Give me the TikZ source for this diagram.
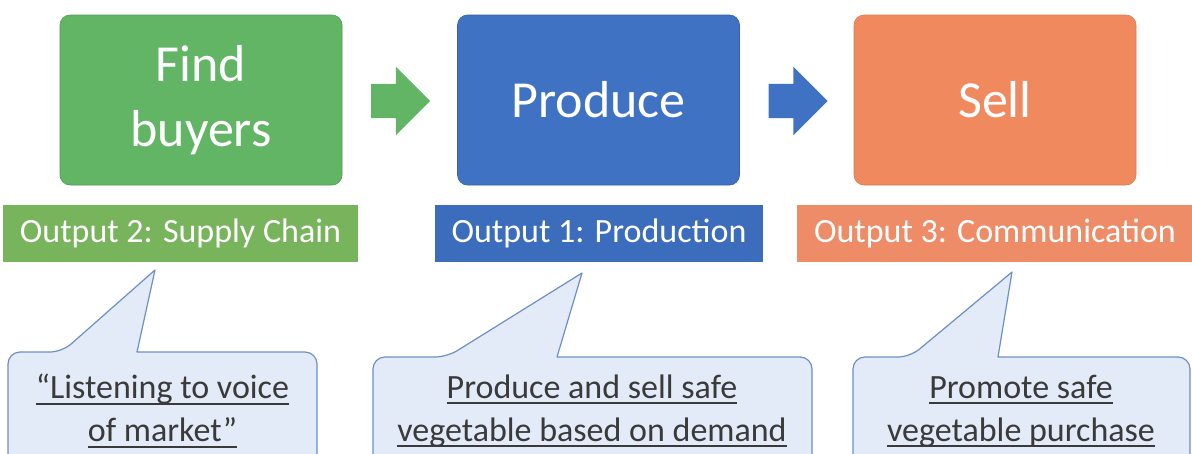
\documentclass[tikz,border=0pt]{standalone}
\usepackage{fontspec}
\setmainfont{Carlito}
\usetikzlibrary{shapes.arrows}
\definecolor{gbox}{HTML}{62B565}
\definecolor{gband}{HTML}{78B45C}
\definecolor{bbox}{HTML}{3F72C2}
\definecolor{bband}{HTML}{3C6DBD}
\definecolor{obox}{HTML}{F08A5E}
\definecolor{oband}{HTML}{EE8C68}
\definecolor{cfill}{HTML}{E3EAF8}
\definecolor{cline}{HTML}{6E8FC4}
\definecolor{ctext}{HTML}{3A3A3A}
\newcommand{\ulx}[1]{\setbox0\hbox{#1}\rlap{\rule[-6pt]{\wd0}{2pt}}\box0}
\tikzset{
  bigbox/.style={rounded corners=10pt, minimum width=282pt, minimum height=170pt,
    inner sep=0pt, text=white, align=center, font=\fontsize{52}{65}\selectfont},
  band/.style={minimum height=57pt, inner sep=0pt, text=white,
    font=\fontsize{34}{40}\selectfont},
  blockarrow/.style={single arrow, inner xsep=0pt, inner ysep=17pt,
    minimum height=59pt, single arrow head extend=17pt, draw=none},
  callout/.style={fill=cfill, draw=cline, line width=1.2pt, line join=round},
  ctxt/.style={text=ctext, align=center, inner sep=0pt,
    font=\fontsize{34}{43}\selectfont}
}
\begin{document}
\begin{tikzpicture}[x=1pt,y=-1pt]
\useasboundingbox (0,0) rectangle (1192,453);
\clip (0,0) rectangle (1192,453);
\fill[white] (0,0) rectangle (1192,453);

% main boxes
\node[bigbox, fill=gbox, draw=gbox!85!black, line width=0.6pt] (find) at (201,100) {\raisebox{-4pt}{Find}\\\raisebox{-4pt}{buyers}};
\node[bigbox, fill=bbox, draw=bbox!85!black, line width=0.6pt] (prod) at (598.5,100) {Produce};
\node[bigbox, fill=obox, draw=obox!90!black, line width=0.6pt] (sell) at (995,100) {Sell};

% block arrows
\node[blockarrow, fill=gbox] (a1) at (392,101) {};
\node[blockarrow, fill=bbox] (a2) at (789.5,101) {};

% output bands
\node[band, fill=gband, minimum width=355pt] (o2) at (180.5,233.5) {Output 2: Supply Chain};
\node[band, fill=bband, minimum width=328pt] (o1) at (599,233.5) {Output 1: Production};
\node[band, fill=oband, minimum width=396pt] (o3) at (995,233.5) {Output 3: Communication};

% callouts
\coordinate (t2) at (155,270);
\coordinate (t1) at (582,273);
\coordinate (t3) at (1012,272);
\draw[callout] (8,480) [rounded corners=12pt] -- (8,352) -- (62,352) [sharp corners] -- (t2) -- (137,352) [rounded corners=12pt] -- (317,352) -- (317,480) -- cycle;
\draw[callout] (373,480) [rounded corners=12pt] -- (373,357) -- (447,357) [sharp corners] -- (t1) -- (557,357) [rounded corners=12pt] -- (812,357) -- (812,480) -- cycle;
\draw[callout] (853,480) [rounded corners=12pt] -- (853,357) -- (910,357) [sharp corners] -- (t3) -- (998,357) [rounded corners=12pt] -- (1190,357) -- (1190,480) -- cycle;

\node[ctxt] (c2) at (162.5,411) {\ulx{“Listening to voice}\\\ulx{of market”}};
\node[ctxt] (c1) at (592,411) {\ulx{Produce and sell safe}\\\ulx{vegetable based on demand}};
\node[ctxt] (c3) at (1021,411) {\ulx{Promote safe}\\\ulx{vegetable purchase}};
\end{tikzpicture}
\end{document}
